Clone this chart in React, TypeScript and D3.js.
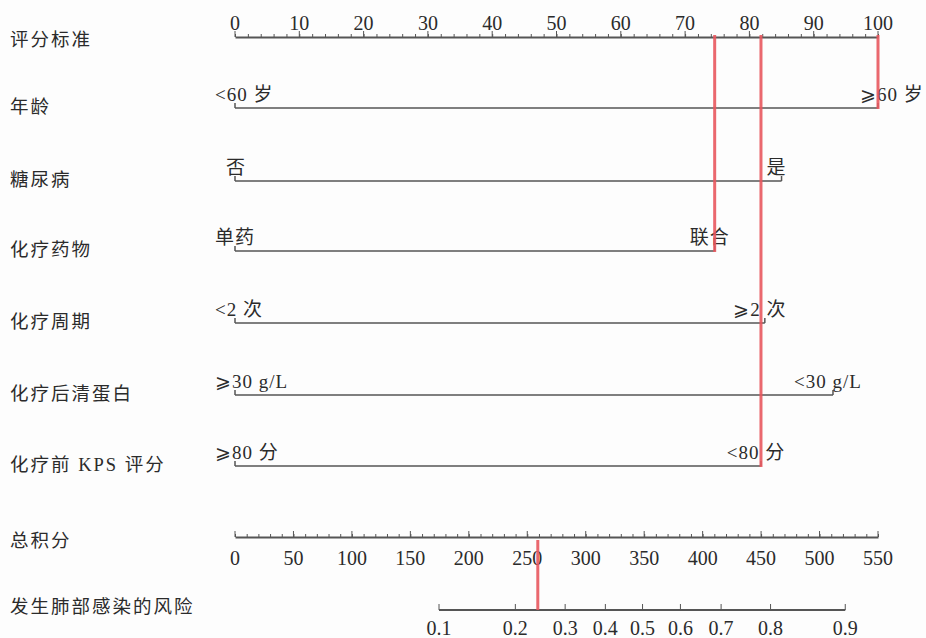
import React, { useEffect, useRef } from "react";
import * as d3 from "d3";

// points scale (top axis)
const pointTicks = d3.range(0, 101, 10);

// predictors: label, low level, high level, points of the high level
const variables = ["年龄", "糖尿病", "化疗药物", "化疗周期", "化疗后清蛋白", "化疗前 KPS 评分"];
const lowLabels = ["<60 岁", "否", "单药", "<2 次", "⩾30 g/L", "⩾80 分"];
const highLabels = ["⩾60 岁", "是", "联合", "⩾2 次", "<30 g/L", "<80 分"];
const highPoints = [100, 85, 74.6, 82.4, 93, 81.8];

// total points + risk
const totalTicks = d3.range(0, 551, 50);
const riskProbs = ["0.1", "0.2", "0.3", "0.4", "0.5", "0.6", "0.7", "0.8", "0.9"];
const riskPoints = [174.5, 239.8, 282.4, 316.8, 348.6, 381, 415.8, 458.1, 522];

// red reading lines: points value and the row where it stops
const markerPoints = [100, 74.6, 81.8];
const markerRows = [0, 2, 5];
const markerTotal = 259;

const width = 926;
const height = 638;
const x0 = 235;
const x1 = 878;
const topY = 37;
const rowY = [108, 181, 251, 323, 395, 466];
const totalY = 537;
const riskY = 610;

const FONT = "'Liberation Serif', 'Noto Sans CJK SC', serif";
const INK = "#555";
const TXT = "#2b2b2b";
const RED = "#e8585e";

const Nomogram = () => {
  const ref = useRef(null);

  useEffect(() => {
    if (!ref.current) return;
    const svg = d3.select(ref.current);
    svg.selectAll("*").remove();

    const x = d3.scaleLinear([0, 100], [x0, x1]);
    const xt = d3.scaleLinear([0, 550], [x0, x1]);

    // left labels
    const leftLabels = ["评分标准", ...variables, "总积分", "发生肺部感染的风险"];
    const leftY = [40, ...rowY.map((y) => y - 1), 541, 607];
    svg
      .append("g")
      .selectAll("text")
      .data(leftLabels)
      .join("text")
      .attr("x", 10)
      .attr("y", (d, i) => leftY[i])
      .attr("dy", "0.35em")
      .attr("fill", TXT)
      .attr("font-family", FONT)
      .attr("font-size", 18.5)
      .attr("letter-spacing", 2)
      .text((d) => d);

    // top points axis
    const top = svg.append("g").attr("transform", `translate(0,${topY})`);
    top
      .call(
        d3
          .axisTop(x)
          .tickValues(d3.range(0, 101, 2))
          .tickSize(3)
          .tickSizeOuter(0)
          .tickFormat(() => "")
      )
      .attr("font-family", null)
      .attr("font-size", null)
      .call((g) => g.selectAll(".tick text").remove())
      .call((g) => g.select(".domain").attr("stroke", INK).attr("stroke-width", 2))
      .call((g) => g.selectAll(".tick line").attr("stroke", INK));
    top
      .selectAll(".major")
      .data(pointTicks)
      .join("line")
      .attr("x1", (d) => x(d))
      .attr("x2", (d) => x(d))
      .attr("y1", 0)
      .attr("y2", -6)
      .attr("stroke", INK);
    top
      .selectAll(".lbl")
      .data(pointTicks)
      .join("text")
      .attr("x", (d) => x(d))
      .attr("y", -7)
      .attr("text-anchor", "middle")
      .attr("fill", TXT)
      .attr("font-family", FONT)
      .attr("font-size", 20)
      .text((d) => d);

    // predictor rows
    variables.forEach((v, i) => {
      const g = svg.append("g").attr("transform", `translate(0,${rowY[i]})`);
      const xe = x(highPoints[i]);
      g.append("line")
        .attr("x1", x(0))
        .attr("x2", xe)
        .attr("stroke", INK)
        .attr("stroke-width", 1.5);
      [x(0), xe].forEach((px) =>
        g
          .append("line")
          .attr("x1", px)
          .attr("x2", px)
          .attr("y1", 0)
          .attr("y2", -5)
          .attr("stroke", INK)
          .attr("stroke-width", 1.5)
      );
      const short = lowLabels[i].length < 2;
      g.append("text")
        .attr("x", short ? x(0) + 1 : x(0) - 20)
        .attr("y", -7)
        .attr("text-anchor", short ? "middle" : "start")
        .attr("fill", TXT)
        .attr("font-family", FONT)
        .attr("font-size", 19)
        .attr("letter-spacing", 1)
        .text(lowLabels[i]);
      g.append("text")
        .attr("x", i === 0 ? xe + 14 : xe - 5)
        .attr("y", -7)
        .attr("text-anchor", "middle")
        .attr("fill", TXT)
        .attr("font-family", FONT)
        .attr("font-size", 19)
        .attr("letter-spacing", 1)
        .text(highLabels[i]);
    });

    // total points axis
    const tot = svg.append("g").attr("transform", `translate(0,${totalY})`);
    tot
      .call(
        d3
          .axisTop(xt)
          .tickValues(d3.range(0, 551, 10))
          .tickSize(3)
          .tickSizeOuter(0)
          .tickFormat(() => "")
      )
      .attr("font-family", null)
      .attr("font-size", null)
      .call((g) => g.selectAll(".tick text").remove())
      .call((g) => g.select(".domain").attr("stroke", INK).attr("stroke-width", 2))
      .call((g) => g.selectAll(".tick line").attr("stroke", INK));
    tot
      .selectAll(".major")
      .data(totalTicks)
      .join("line")
      .attr("x1", (d) => xt(d))
      .attr("x2", (d) => xt(d))
      .attr("y1", 0)
      .attr("y2", -6)
      .attr("stroke", INK);
    tot
      .selectAll(".lbl")
      .data(totalTicks)
      .join("text")
      .attr("x", (d) => xt(d))
      .attr("y", 28)
      .attr("text-anchor", "middle")
      .attr("fill", TXT)
      .attr("font-family", FONT)
      .attr("font-size", 20)
      .text((d) => d);

    // risk axis
    const risk = svg.append("g").attr("transform", `translate(0,${riskY})`);
    risk
      .append("line")
      .attr("x1", xt(riskPoints[0]))
      .attr("x2", xt(riskPoints[riskPoints.length - 1]))
      .attr("stroke", INK)
      .attr("stroke-width", 2);
    risk
      .selectAll(".tk")
      .data(riskPoints)
      .join("line")
      .attr("x1", (d) => xt(d))
      .attr("x2", (d) => xt(d))
      .attr("y1", 0)
      .attr("y2", -6)
      .attr("stroke", INK);
    risk
      .selectAll(".lbl")
      .data(riskProbs)
      .join("text")
      .attr("x", (d, i) => xt(riskPoints[i]))
      .attr("y", 25)
      .attr("text-anchor", "middle")
      .attr("fill", TXT)
      .attr("font-family", FONT)
      .attr("font-size", 20)
      .text((d) => d);

    // red reading lines
    markerPoints.forEach((p, i) =>
      svg
        .append("line")
        .attr("x1", x(p))
        .attr("x2", x(p))
        .attr("y1", topY - 2)
        .attr("y2", rowY[markerRows[i]] + 1)
        .attr("stroke", RED)
        .attr("stroke-opacity", 0.9)
        .attr("stroke-width", 3)
    );
    svg
      .append("line")
      .attr("x1", xt(markerTotal))
      .attr("x2", xt(markerTotal))
      .attr("y1", totalY + 3)
      .attr("y2", riskY)
      .attr("stroke", RED)
      .attr("stroke-opacity", 0.9)
      .attr("stroke-width", 3);
  }, []);

  return (
    <svg
      ref={ref}
      width={width}
      height={height}
      viewBox={`0 0 ${width} ${height}`}
      style={{ display: "block", background: "#fdfdfd", fontFamily: FONT }}
    />
  );
};

export default function App() {
  return (
    <div style={{ position: "absolute", left: 0, top: 0 }}>
      <Nomogram />
    </div>
  );
}
